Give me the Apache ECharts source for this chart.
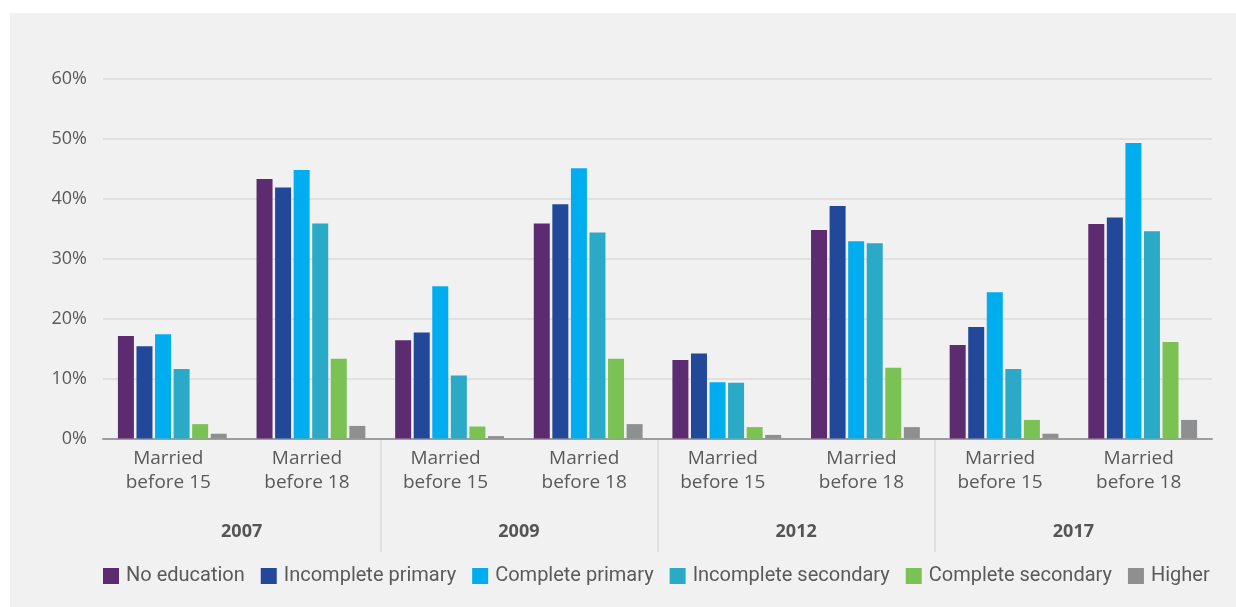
<!DOCTYPE html>
<html>
<head>
<meta charset="utf-8">
<script src="https://cdn.jsdelivr.net/npm/echarts@6/dist/echarts.min.js"></script>
<style>
  html, body { margin: 0; padding: 0; background: #ffffff; }
  #panel { position: absolute; left: 10px; top: 13px; right: 0; bottom: 0; background: #f1f1f1; }
  #chart { position: absolute; left: 0; top: 0; width: 1236px; height: 607px; }
</style>
</head>
<body>
<div id="panel"></div>
<div id="chart"></div>
<script>
// categories: two per survey year
const categories = [
  'Married\nbefore 15', 'Married\nbefore 18',
  'Married\nbefore 15', 'Married\nbefore 18',
  'Married\nbefore 15', 'Married\nbefore 18',
  'Married\nbefore 15', 'Married\nbefore 18'
]
const years = ['2007', '2009', '2012', '2017']
const yTicks = [0, 10, 20, 30, 40, 50, 60]

// % of women, by education level
const noEducation = [17.1, 43.3, 16.4, 35.9, 13.1, 34.8, 15.6, 35.8]
const incompletePrimary = [15.4, 41.9, 17.7, 39.1, 14.2, 38.8, 18.6, 36.9]
const completePrimary = [17.4, 44.8, 25.4, 45.1, 9.4, 32.9, 24.4, 49.3]
const incompleteSecondary = [11.6, 35.9, 10.5, 34.4, 9.3, 32.6, 11.6, 34.6]
const completeSecondary = [2.4, 13.3, 2.0, 13.3, 1.9, 11.8, 3.1, 16.1]
const higher = [0.8, 2.1, 0.4, 2.4, 0.6, 1.9, 0.8, 3.1]

const seriesNames = ['No education', 'Incomplete primary', 'Complete primary', 'Incomplete secondary', 'Complete secondary', 'Higher']
const seriesData = [noEducation, incompletePrimary, completePrimary, incompleteSecondary, completeSecondary, higher]
const seriesColors = ['#5d2b70', '#214899', '#00aeef', '#2aaac6', '#7bc255', '#8e8f91']

const textColor = '#5a5a5a'
const gridLine = '#dadada'

const chart = echarts.init(document.getElementById('chart'))

const series = seriesNames.map((name, i) => ({
  name,
  type: 'bar',
  xAxisIndex: 0,
  yAxisIndex: 0,
  data: seriesData[i],
  barWidth: 16,
  barGap: '16%',
  itemStyle: { color: seriesColors[i] }
}))

const option = {
  animation: false,
  textStyle: { fontFamily: 'Open Sans' },
  grid: [
    { left: 103, right: 24, top: 79, bottom: 168.5 },
    { left: 103, right: 24, top: 440, height: 112 }
  ],
  legend: {
    data: seriesNames,
    left: 103,
    top: 566,
    padding: 0,
    icon: 'rect',
    itemWidth: 16,
    itemHeight: 16,
    itemGap: 16,
    textStyle: { color: textColor, fontSize: 20, fontFamily: 'Roboto', padding: [0, 0, 0, 2] }
  },
  xAxis: [
    {
      type: 'category',
      gridIndex: 0,
      data: categories,
      axisLine: { lineStyle: { color: '#9d9d9d', width: 2 } },
      axisTick: { show: false },
      axisLabel: {
        color: textColor,
        fontSize: 19,
        lineHeight: 24,
        margin: 8,
        interval: 0,
        padding: [0, 8, 0, 0]
      }
    },
    {
      type: 'category',
      gridIndex: 1,
      data: years,
      position: 'bottom',
      offset: -20,
      axisLine: { show: false },
      axisTick: { show: false },
      axisLabel: {
        color: '#555555',
        fontSize: 18,
        fontWeight: 'bold',
        margin: 0,
        verticalAlign: 'middle'
      },
      splitLine: {
        show: true,
        showMinLine: false,
        showMaxLine: false,
        lineStyle: { color: gridLine, width: 1.5 }
      }
    }
  ],
  yAxis: [
    {
      type: 'value',
      gridIndex: 0,
      min: yTicks[0],
      max: yTicks[yTicks.length - 1],
      interval: 10,
      axisLine: { show: false },
      axisTick: { show: false },
      axisLabel: { color: textColor, fontSize: 18, margin: 16, formatter: '{value}%' },
      splitLine: { lineStyle: { color: gridLine, width: 1.5 } }
    },
    { type: 'value', gridIndex: 1, show: false }
  ],
  series
}

chart.setOption(option)
</script>
</body>
</html>
